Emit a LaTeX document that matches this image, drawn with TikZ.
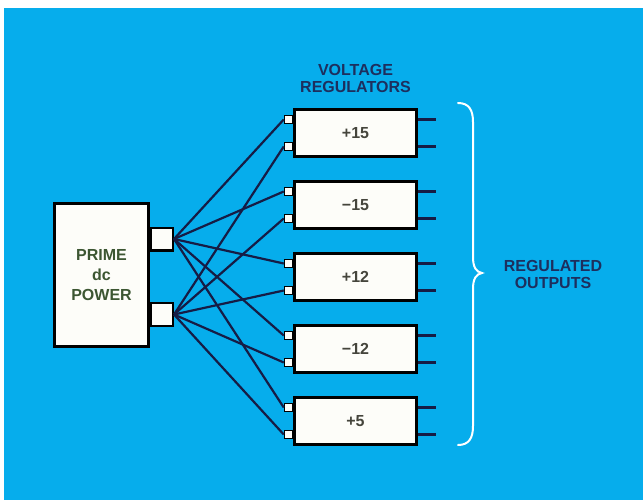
\documentclass[tikz,border=0pt]{standalone}
\usepackage{fontspec}
\setmainfont{Liberation Sans}
\definecolor{bg}{HTML}{06ADEC}
\definecolor{wire}{HTML}{161C45}
\definecolor{lbl}{HTML}{1D2F5E}
\definecolor{prim}{HTML}{3C5632}
\definecolor{num}{HTML}{45453C}
\definecolor{boxfill}{HTML}{FDFDF9}
\begin{document}
\begin{tikzpicture}[x=1pt,y=-1pt,
  regbox/.style={draw=black, line width=3.4pt, fill=boxfill, minimum width=121.6pt, minimum height=46.6pt, inner sep=0pt, font=\bfseries\fontsize{16}{18}\selectfont, text=num},
  inport/.style={draw=black, line width=1.5pt, fill=boxfill, minimum size=8pt, inner sep=0pt},
  primebox/.style={draw=black, line width=3.4pt, fill=boxfill, minimum width=93.6pt, minimum height=142.6pt, inner sep=0pt, align=center, font=\bfseries\fontsize{16}{20}\selectfont, text=prim},
  outport/.style={draw=black, line width=2.2pt, fill=boxfill, minimum width=21.8pt, minimum height=22.8pt, inner sep=0pt},
  wireline/.style={draw=wire, line width=2.2pt},
  outline/.style={draw=wire, line width=2.2pt},
  lbltext/.style={align=center, font=\bfseries\fontsize{16}{17}\selectfont, text=lbl, inner sep=0pt},
  bracestyle/.style={draw=white, line width=2pt, line cap=round}
]
\useasboundingbox[fill=white] (0,0) rectangle (643,500);
\fill[bg] (4,8) rectangle (643,500);

% prime dc power
\node[primebox] (prime) at (101.5,275) {PRIME\\dc\\POWER};
\node[outport] (pc1) at (162,239) {};
\node[outport] (pc2) at (162,314.5) {};

% regulators
\foreach \i/\t in {1/+15,2/\char"2212 15,3/+12,4/\char"2212 12,5/+5}{
  \node[regbox] (r\i) at (355.5,{133+72*(\i-1)}) {\t};
  \node[inport] (i\i a) at (288.5,{133+72*(\i-1)-13.5}) {};
  \node[inport] (i\i b) at (288.5,{133+72*(\i-1)+13.5}) {};
  \draw[outline] (r\i.east |- i\i a) -- ++(18,0);
  \draw[outline] (r\i.east |- i\i b) -- ++(18,0);
  \draw[wireline] (pc1.east) -- (i\i a.west);
  \draw[wireline] (pc2.east) -- (i\i b.west);
}

% labels
\node[lbltext] (vr) at (355.5,78) {VOLTAGE\\REGULATORS};
\node[lbltext] (ro) at (553,274) {REGULATED\\OUTPUTS};

% brace
\draw[bracestyle] (458,103) .. controls (469,103) and (473,110) .. (473,122)
  -- (473,257) .. controls (473,267) and (476,272) .. (482,273)
  .. controls (476,274) and (473,279) .. (473,289)
  -- (473,426) .. controls (473,438) and (469,445) .. (458,445);
\end{tikzpicture}
\end{document}
